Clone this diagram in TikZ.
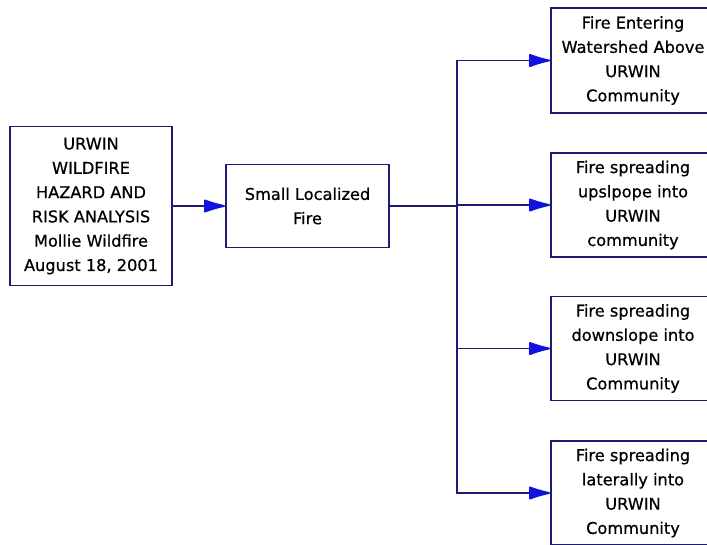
\documentclass[tikz,border=0pt]{standalone}
\usepackage{fontspec}
\setmainfont{DejaVu Sans}[FakeBold=0.6]
\usetikzlibrary{arrows.meta}
\definecolor{navyline}{HTML}{1C1C70}
\definecolor{tipblue}{HTML}{1212E0}
\tikzset{
  box/.style={draw=navyline, line width=1.8pt, fill=white, rectangle, align=center,
    inner sep=0pt, font=\fontsize{16.2}{24.3}\selectfont},
  link/.style={draw=navyline, line width=1.8pt},
  flow/.style={link, -{Latex[length=25pt,width=14pt,round,color=tipblue,fill=tipblue]}},
}
\begin{document}
\begin{tikzpicture}[x=1pt,y=-1pt]
  \useasboundingbox (0,0) rectangle (707,544);
  \begin{scope}
    \clip (0,0) rectangle (707,544);
    % source box and the first stage
    \node[box, minimum width=162pt, minimum height=159pt] (src) at (91,206)
      {URWIN\\WILDFIRE\\HAZARD AND\\RISK ANALYSIS\\Mollie Wildfire\\August 18, 2001};
    \node[box, minimum width=163pt, minimum height=83pt] (small) at (307.5,206)
      {Small Localized\\Fire};
    % outcome boxes (they run past the right edge)
    \node[box, minimum width=164pt, minimum height=105pt] (o1) at (633,60.5)
      {Fire Entering\\Watershed Above\\URWIN\\Community};
    \node[box, minimum width=164pt, minimum height=104pt] (o2) at (633,205)
      {Fire spreading\\upslpope into\\URWIN\\community};
    \node[box, minimum width=164pt, minimum height=104pt] (o3) at (633,348.5)
      {Fire spreading\\downslope into\\URWIN\\Community};
    \node[box, minimum width=164pt, minimum height=104pt] (o4) at (633,493)
      {Fire spreading\\laterally into\\URWIN\\Community};
    % connectors
    \coordinate (split) at (457,206);
    \draw[flow] (src.east) -- (small.west);
    \draw[link] (small.east) -- (split);
    \draw[flow] (split) |- (o1.west);
    \draw[flow] (split) |- (o2.west);
    \draw[flow] (split) |- (o3.west);
    \draw[flow] (split) |- (o4.west);
  \end{scope}
\end{tikzpicture}
\end{document}
